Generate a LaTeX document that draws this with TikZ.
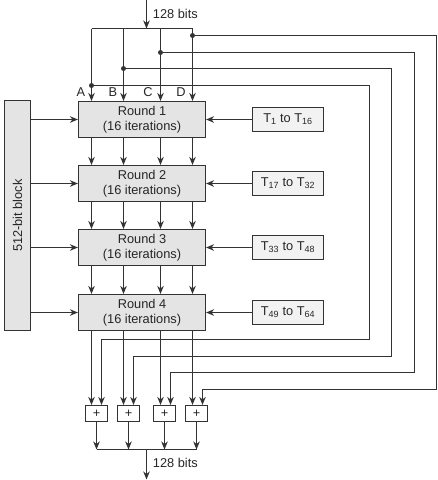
\documentclass[tikz,border=0pt]{standalone}
\usepackage{fontspec}
\setmainfont{Liberation Sans}
\usetikzlibrary{arrows.meta}
\definecolor{ln}{HTML}{333333}
\definecolor{boxg}{HTML}{E4E4E4}
\definecolor{tg}{HTML}{F2F2F2}
\begin{document}
\begin{tikzpicture}[x=1pt,y=-1pt,
  line/.style={draw=ln, line width=1.2pt},
  arr/.style={line, -{Stealth[length=8pt,width=6.5pt,inset=2.5pt]}},
  txt/.style={font=\fontsize{12.8}{15}\selectfont, text=black!85, inner sep=0pt},
  roundbox/.style={txt, draw=ln, line width=1.1pt, fill=boxg, minimum width=127pt, minimum height=36pt, align=center},
  tbox/.style={txt, draw=ln, line width=1.1pt, fill=tg, minimum width=71pt, minimum height=24pt},
  blkbox/.style={txt, draw=ln, line width=1.1pt, fill=boxg, minimum width=26pt, minimum height=230pt},
  adder/.style={txt, draw=ln, line width=1.1pt, fill=white, minimum width=22pt, minimum height=16pt},
  dot/.style={circle, fill=ln, inner sep=0pt, minimum size=5pt}
]
\useasboundingbox (0,0) rectangle (438,480);

% main boxes
\node[roundbox] (R1) at (142,119.5) {Round 1\\(16 iterations)};
\node[roundbox] (R2) at (142,183.5) {Round 2\\(16 iterations)};
\node[roundbox] (R3) at (142,247.5) {Round 3\\(16 iterations)};
\node[roundbox] (R4) at (142,312.5) {Round 4\\(16 iterations)};

\node[tbox] (T1) at (288,119.5) {T\textsubscript{1} to T\textsubscript{16}};
\node[tbox] (T2) at (288,183.5) {T\textsubscript{17} to T\textsubscript{32}};
\node[tbox] (T3) at (288,247.5) {T\textsubscript{33} to T\textsubscript{48}};
\node[tbox] (T4) at (288,312.5) {T\textsubscript{49} to T\textsubscript{64}};

\node[blkbox] (blk) at (17.5,215.5) {};
\node[txt, rotate=90] (blklbl) at (blk.center) {512-bit block};

% inputs to rounds
\foreach \i in {1,2,3,4} {
  \draw[arr] (blk.east |- R\i.west) -- (R\i.west);
  \draw[arr] (T\i.west) -- (R\i.east |- T\i.west);
}

% top input
\coordinate (in) at (146.5,0);
\coordinate (busL) at (91.5,28.5);
\coordinate (busR) at (192.5,28.5);
\draw[arr] (in) -- (in |- busL);
\draw[line] (busL) -- (busR);
\node[txt, anchor=west] (topl) at (152.7,14) {128 bits};

% columns, feedback, adders
\foreach \n/\x/\dy/\ex/\hy/\ix/\sx/\lx in {
  A/91.5/85.5/369.5/339.5/101.5/96.5/81,
  B/123.5/68.5/391.5/356.5/133.5/128.5/113,
  C/160.5/52.5/414.5/372.5/170.5/164.5/148,
  D/192.5/35.5/436.5/389.5/202.5/196.5/181} {
  \coordinate (c\n) at (\x,28.5);
  \coordinate (d\n) at (\x,\dy);
  \coordinate (e\n) at (\ex,\dy);
  \coordinate (f\n) at (\ex,\hy);
  \coordinate (g\n) at (\ix,\hy);
  \node[adder] (s\n) at (\sx,413.5) {+};
  \node[txt] (l\n) at (\lx,92) {\n};
  \draw[arr] (c\n) -- (R1.north -| c\n);
  \draw[arr] (R1.south -| c\n) -- (R2.north -| c\n);
  \draw[arr] (R2.south -| c\n) -- (R3.north -| c\n);
  \draw[arr] (R3.south -| c\n) -- (R4.north -| c\n);
  \draw[arr] (R4.south -| c\n) -- (s\n.north -| c\n);
  \draw[arr] (d\n) -- (e\n) -- (f\n) -- (g\n) -- (s\n.north -| g\n);
  \node[dot] (p\n) at (d\n) {};
}

% outputs
\coordinate (obus) at (146.5,449.5);
\coordinate (out) at (146.5,479.5);
\foreach \n in {A,B,C,D} {
  \draw[arr] (s\n.south) -- (s\n.south |- obus);
}
\draw[line] (sA.south |- obus) -- (sD.south |- obus);
\draw[arr] (obus) -- (out);
\node[txt, anchor=west] (botl) at (152.7,463) {128 bits};
\end{tikzpicture}
\end{document}
